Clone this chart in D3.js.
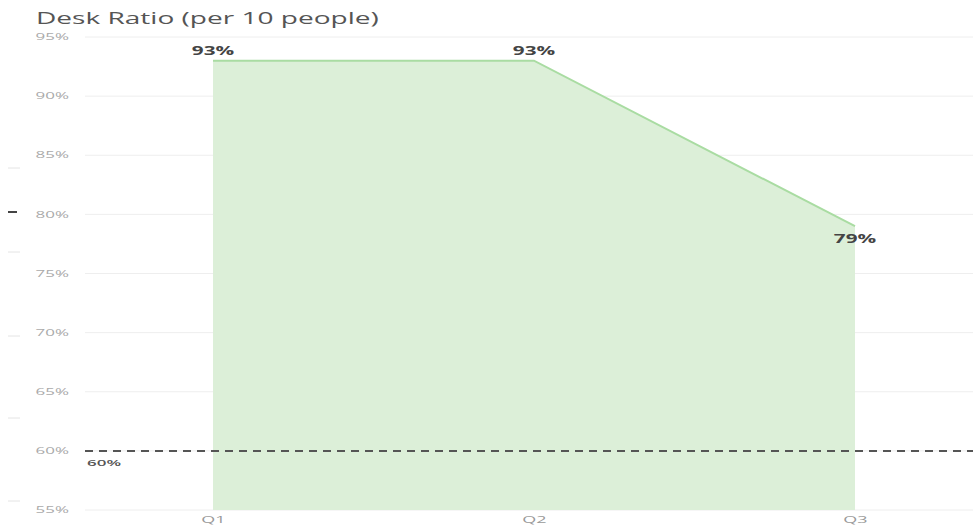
<!DOCTYPE html>
<html>
<head>
<meta charset="utf-8">
<script src="https://cdn.jsdelivr.net/npm/d3@7"></script>
<style>
  html, body { margin: 0; padding: 0; background: #fff; }
  svg { display: block; font-family: "Open Sans", "Noto Sans", sans-serif; }
</style>
</head>
<body>
<svg id="chart" width="973" height="530"></svg>
<script>
// Quarterly desk ratio (percent of desks per 10 people)
const quarters = ["Q1", "Q2", "Q3"];
const deskRatio = [93, 93, 79];
const targetRatio = 60;
const yTicks = [55, 60, 65, 70, 75, 80, 85, 90, 95];

const width = 973, height = 530;
const margin = { top: 37, right: 0, bottom: 20, left: 85 };

const svg = d3.select("#chart");

// Text is drawn horizontally widened
const stretchText = 1.7;
const stretchSmall = 2;

const x = d3.scalePoint()
  .domain(quarters)
  .range([213, 855]);

const y = d3.scaleLinear()
  .domain([55, 95])
  .range([510, 37]);

function placeText(sel, px, py, sx) {
  return sel.attr("transform", `translate(${px},${py}) scale(${sx},1)`);
}

// Title
svg.append("text")
  .call(placeText, 36, 24, stretchText)
  .attr("font-size", 16.5)
  .attr("fill", "#555")
  .text("Desk Ratio (per 10 people)");

// Horizontal gridlines
svg.append("g")
  .selectAll("line")
  .data(yTicks)
  .join("line")
  .attr("x1", margin.left).attr("x2", width)
  .attr("y1", d => y(d)).attr("y2", d => y(d))
  .attr("stroke", "#eeeeee")
  .attr("stroke-width", 1);

// Y axis labels
const yAxis = d3.axisLeft(y)
  .tickValues(yTicks)
  .tickFormat(d => d + "%")
  .tickSize(0)
  .tickPadding(0);
const yg = svg.append("g")
  .attr("transform", "translate(69,0)")
  .call(yAxis);
yg.select(".domain").remove();
yg.selectAll("text")
  .attr("x", 0)
  .attr("transform", `scale(${stretchSmall},1)`)
  .attr("font-size", 8.5)
  .attr("fill", "#aaa")
  .attr("font-family", "\"Open Sans\", sans-serif");

// X axis labels
const xAxis = d3.axisBottom(x).tickSize(0).tickPadding(0);
const xg = svg.append("g")
  .attr("transform", "translate(0,517)")
  .call(xAxis);
xg.select(".domain").remove();
xg.selectAll("text")
  .attr("transform", `scale(${stretchSmall},1)`)
  .attr("font-size", 9)
  .attr("fill", "#999")
  .attr("font-family", "\"Open Sans\", sans-serif");

// Area under the series
const points = quarters.map((q, i) => ({ q, v: deskRatio[i] }));
svg.append("path")
  .datum(points)
  .attr("fill", "#dcefd8")
  .attr("d", d3.area()
    .x(d => x(d.q))
    .y0(y(55))
    .y1(d => y(d.v)));

svg.append("path")
  .datum(points)
  .attr("fill", "none")
  .attr("stroke", "#a9dca2")
  .attr("stroke-width", 2)
  .attr("d", d3.line()
    .x(d => x(d.q))
    .y(d => y(d.v)));

// Target reference line
svg.append("line")
  .attr("x1", margin.left).attr("x2", width)
  .attr("y1", y(targetRatio)).attr("y2", y(targetRatio))
  .attr("stroke", "#555")
  .attr("stroke-width", 2)
  .attr("stroke-dasharray", "8,6");

svg.append("text")
  .call(placeText, 87, y(targetRatio) + 15, stretchSmall)
  .attr("font-size", 8.5)
  .attr("font-weight", 600)
  .attr("fill", "#555")
  .text(targetRatio + "%");

// Data labels: above the point, except the last which sits below
svg.append("g")
  .selectAll("text")
  .data(points)
  .join("text")
  .each(function (d, i) {
    const py = i === points.length - 1 ? y(d.v) + 17 : y(d.v) - 6;
    d3.select(this).call(placeText, x(d.q), py, 1.8);
  })
  .attr("text-anchor", "middle")
  .attr("font-size", 11.5)
  .attr("font-weight", 700)
  .attr("fill", "#444")
  .text(d => d.v + "%");

// Small side markers at the left edge
const sideMarks = [
  { y: 168, c: "#e4e4e4" },
  { y: 212, c: "#444" },
  { y: 252, c: "#e4e4e4" },
  { y: 336, c: "#e4e4e4" },
  { y: 418, c: "#e4e4e4" },
  { y: 501, c: "#e4e4e4" }
];
svg.append("g")
  .selectAll("line")
  .data(sideMarks)
  .join("line")
  .attr("x1", 8).attr("x2", d => d.c === "#444" ? 17 : 20)
  .attr("y1", d => d.y).attr("y2", d => d.y)
  .attr("stroke", d => d.c)
  .attr("stroke-width", d => d.c === "#444" ? 2 : 1);
</script>
</body>
</html>
